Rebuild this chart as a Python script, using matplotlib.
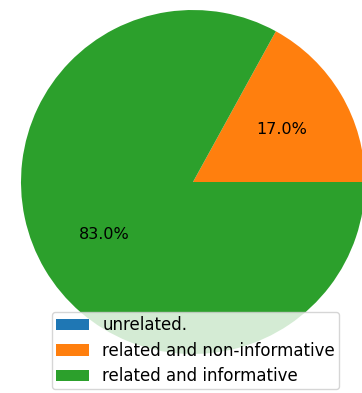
import matplotlib
matplotlib.use("Agg")
import matplotlib.pyplot as plt

# Pie data
labels = ['unrelated.', 'related and non-informative', 'related and informative']
shares = [0.0, 17.0, 83.0]
colors = ['#1f77b4', '#ff7f0e', '#2ca02c']


def pct_label(p):
    # hide the label for empty slices
    return f'{p:.1f}%' if p > 0 else ''


fig = plt.figure(figsize=(3.62, 3.93), dpi=100)
ax = fig.add_axes([21 / 362, 39 / 393, 344 / 362, 344 / 393])

wedges, texts, autotexts = ax.pie(shares, colors=colors, autopct=pct_label,
                                  textprops={'fontsize': 11.5})
ax.set_xlim(-1, 1)
ax.set_ylim(-1, 1)
ax.set_aspect('equal')

fig.legend(wedges, labels, loc='lower center', bbox_to_anchor=(0.54, -0.012),
           fontsize=12, borderpad=0.25, labelspacing=0.45)

fig.savefig('out.png', dpi=100)
